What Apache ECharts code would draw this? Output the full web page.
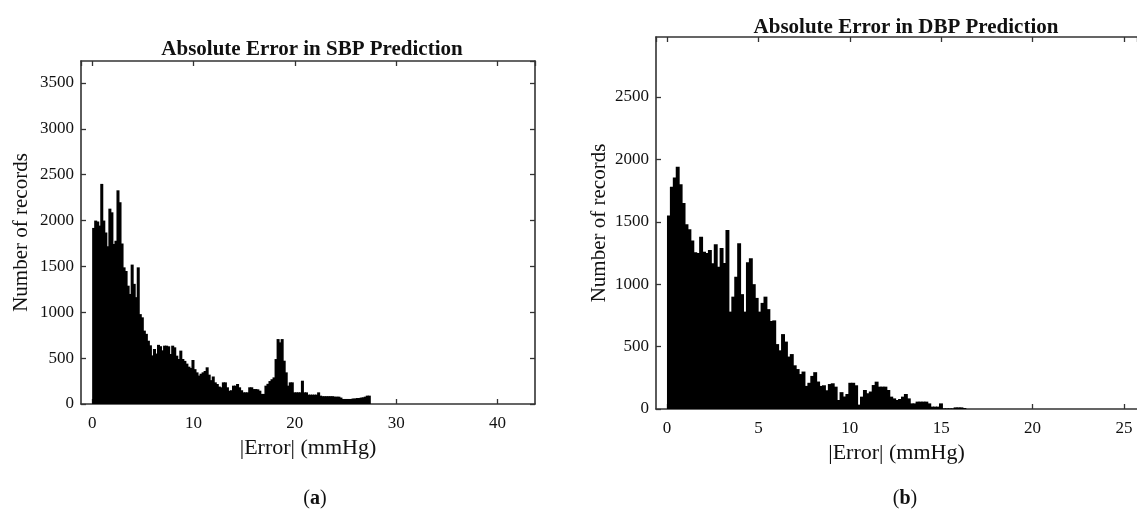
<!DOCTYPE html>
<html>
<head>
<meta charset="utf-8">
<script src="https://cdn.jsdelivr.net/npm/echarts@6/dist/echarts.min.js"></script>
<style>
  html, body { margin: 0; background: #fff; }
  #chart { width: 1137px; height: 518px; }
</style>
</head>
<body>
<div id="chart"></div>
<script>
// histogram bins start at 0 and have a fixed width (mmHg)
const sbpBinWidth = 0.2;
const dbpBinWidth = 0.16;

// |Error| counts for SBP, one value per bin (0 .. 27.4 mmHg)
const sbpCounts = [
  1920, 2000, 1990, 1945, 2400, 2000, 1870, 1720, 2130, 2090,
  1745, 1780, 2330, 2200, 1750, 1490, 1450, 1290, 1200, 1520,
  1310, 1165, 1490, 980, 945, 800, 765, 690, 640, 530,
  600, 550, 645, 630, 585, 636, 636, 629, 545, 636,
  618, 527, 491, 582, 491, 470, 440, 407, 393, 480,
  380, 345, 310, 330, 345, 360, 400, 320, 260, 300,
  236, 218, 190, 182, 236, 236, 182, 145, 150, 200,
  200, 218, 182, 150, 127, 127, 127, 182, 182, 163,
  163, 160, 145, 110, 110, 200, 220, 250, 270, 290,
  490, 708, 672, 708, 472, 345, 200, 236, 236, 127,
  127, 127, 127, 254, 127, 127, 102, 102, 102, 102,
  102, 127, 91, 85, 85, 85, 85, 85, 85, 80,
  80, 80, 70, 55, 55, 55, 55, 55, 60, 60,
  65, 65, 70, 73, 80, 91, 91
];

// |Error| counts for DBP, one value per bin (0 .. 16.3 mmHg)
const dbpCounts = [
  1550, 1780, 1855, 1940, 1800, 1650, 1480, 1440, 1350, 1255,
  1250, 1380, 1260, 1250, 1274, 1167, 1320, 1140, 1290, 1170,
  1434, 780, 900, 1060, 1327, 920, 780, 1175, 1207, 1000,
  890, 780, 850, 900, 800, 705, 710, 520, 470, 600,
  540, 420, 440, 350, 320, 280, 300, 185, 210, 265,
  295, 220, 185, 190, 150, 200, 206, 179, 72, 135,
  100, 120, 210, 210, 190, 35, 99, 152, 126, 140,
  192, 219, 179, 179, 179, 152, 99, 85, 72, 80,
  99, 120, 85, 45, 45, 59, 59, 59, 59, 45,
  19, 19, 19, 45, 5, 5, 5, 5, 13, 13,
  13, 8
];

// tick labels shown on the axes
const sbpXTicks = [0, 10, 20, 30, 40];
const sbpYTicks = [0, 500, 1000, 1500, 2000, 2500, 3000, 3500];
const dbpXTicks = [0, 5, 10, 15, 20, 25];
const dbpYTicks = [0, 500, 1000, 1500, 2000, 2500];

const titles = ['Absolute Error in SBP Prediction', 'Absolute Error in DBP Prediction'];
const xName = '|Error| (mmHg)';
const yName = 'Number of records';

function toBins(counts, w) {
  return counts.map((c, i) => [+(i * w).toFixed(3), +((i + 1) * w).toFixed(3), c]);
}

function renderBar(params, api) {
  const start = api.coord([api.value(0), api.value(2)]);
  const end = api.coord([api.value(1), 0]);
  return {
    type: 'rect',
    shape: { x: start[0], y: start[1], width: end[0] - start[0] + 1, height: end[1] - start[1] },
    style: { fill: '#000' }
  };
}

const serif = '"Liberation Serif", "DejaVu Serif", serif';
const ink = '#111';
const line = { show: true, onZero: false, lineStyle: { color: '#333', width: 1.6 } };
const tick = { inside: true, length: 5, lineStyle: { color: '#333', width: 1.3 } };

function labelFilter(list) {
  return v => (list.indexOf(Math.round(v * 1000) / 1000) >= 0 ? String(v) : '');
}

function xAxisPair(grid, min, max, ticks) {
  return [
    {
      type: 'value', gridIndex: grid, position: 'bottom', min: min, max: max, splitNumber: 5,
      axisLine: line, axisTick: tick,
      axisLabel: { color: ink, fontFamily: serif, fontSize: 17, margin: 11,
        showMinLabel: false, showMaxLabel: false, formatter: labelFilter(ticks) },
      splitLine: { show: false },
      name: xName, nameLocation: 'middle', nameGap: 27,
      nameTextStyle: { color: ink, fontFamily: serif, fontSize: 22 }
    },
    {
      type: 'value', gridIndex: grid, position: 'top', min: min, max: max, splitNumber: 5,
      axisLine: line, axisTick: tick,
      axisLabel: { show: false },
      splitLine: { show: false }
    }
  ];
}

// the DBP panel runs past the page edge, so its right-hand frame is not drawn
function yAxisPair(grid, max, ticks, gap, showRight) {
  return [
    {
      type: 'value', gridIndex: grid, position: 'left', min: 0, max: max, interval: 500,
      axisLine: line, axisTick: tick,
      axisLabel: { color: ink, fontFamily: serif, fontSize: 17, margin: 7,
        showMaxLabel: false, formatter: labelFilter(ticks) },
      splitLine: { show: false },
      name: yName, nameLocation: 'middle', nameGap: gap, nameRotate: 90,
      nameTextStyle: { color: ink, fontFamily: serif, fontSize: 21 }
    },
    {
      type: 'value', gridIndex: grid, position: 'right', min: 0, max: max, interval: 500,
      show: showRight,
      axisLine: line, axisTick: tick,
      axisLabel: { show: false },
      splitLine: { show: false }
    }
  ];
}

const chart = echarts.init(document.getElementById('chart'));
chart.setOption({
  backgroundColor: '#fff',
  animation: false,
  title: [
    { text: titles[0], left: 307, top: 34, textAlign: 'center',
      textStyle: { fontFamily: serif, fontSize: 21, fontWeight: 'bold', color: '#111' } },
    { text: titles[1], left: 901, top: 12, textAlign: 'center',
      textStyle: { fontFamily: serif, fontSize: 21, fontWeight: 'bold', color: '#111' } },
    { text: '({a|a})', left: 310, top: 484, textAlign: 'center',
      textStyle: { fontFamily: serif, fontSize: 20, fontWeight: 'normal', color: '#111',
        rich: { a: { fontFamily: serif, fontSize: 20, fontWeight: 'bold', color: '#111' } } } },
    { text: '({a|b})', left: 900, top: 484, textAlign: 'center',
      textStyle: { fontFamily: serif, fontSize: 20, fontWeight: 'normal', color: '#111',
        rich: { a: { fontFamily: serif, fontSize: 20, fontWeight: 'bold', color: '#111' } } } }
  ],
  grid: [
    { left: 81, top: 61, width: 454, height: 343 },
    { left: 656, top: 37, width: 481, height: 372 }
  ],
  xAxis: [].concat(
    xAxisPair(0, -1.1, 43.7, sbpXTicks),
    xAxisPair(1, -0.6, 25.71, dbpXTicks)
  ),
  yAxis: [].concat(
    yAxisPair(0, 3740, sbpYTicks, 49, true),
    yAxisPair(1, 2980, dbpYTicks, 46, false)
  ),
  series: [
    { type: 'custom', name: 'SBP', xAxisIndex: 0, yAxisIndex: 0, renderItem: renderBar,
      encode: { x: [0, 1], y: 2 }, data: toBins(sbpCounts, sbpBinWidth), clip: true },
    { type: 'custom', name: 'DBP', xAxisIndex: 2, yAxisIndex: 2, renderItem: renderBar,
      encode: { x: [0, 1], y: 2 }, data: toBins(dbpCounts, dbpBinWidth), clip: true }
  ]
});
</script>
</body>
</html>
